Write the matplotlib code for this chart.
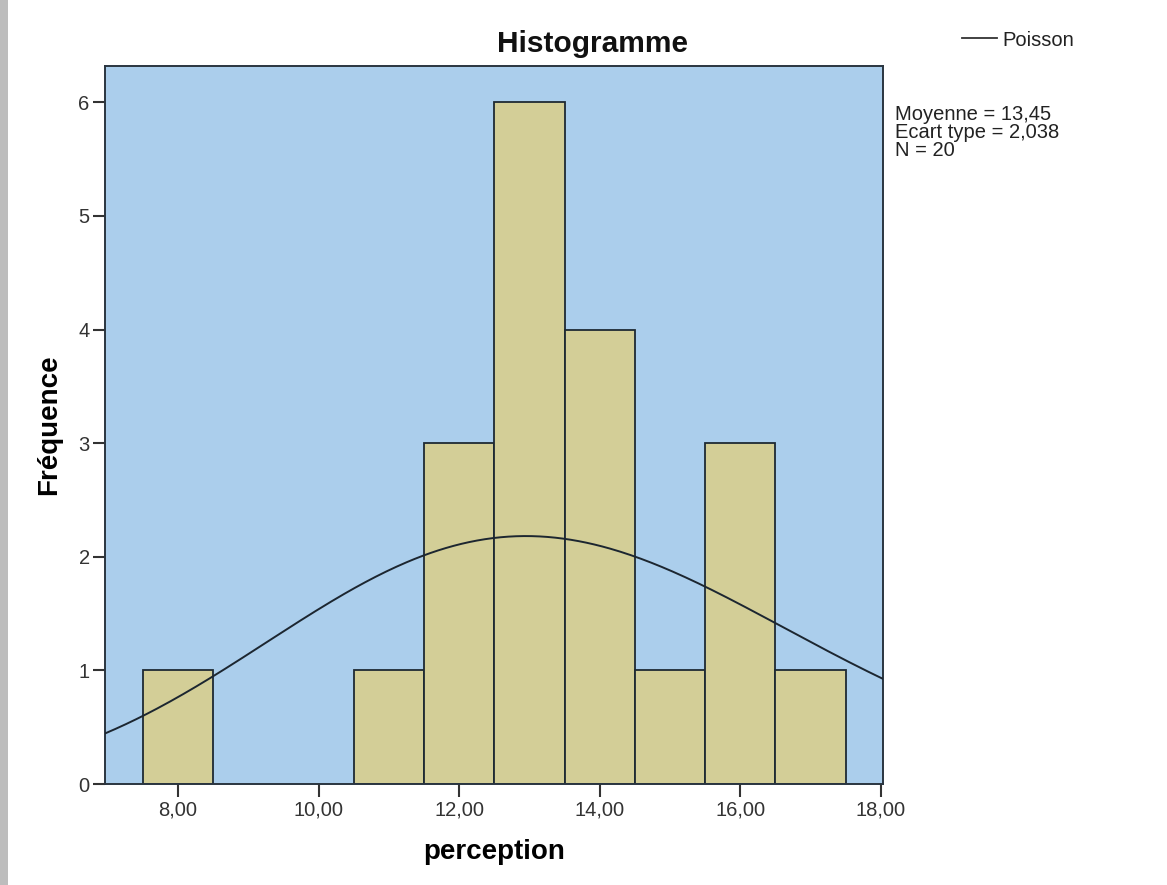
import math

import matplotlib
matplotlib.use("Agg")
import matplotlib.pyplot as plt
import numpy as np

# ---------------------------------------------------------------------------
# data
# ---------------------------------------------------------------------------
bin_centers = [8, 11, 12, 13, 14, 15, 16, 17]
counts = [1, 1, 3, 6, 4, 1, 3, 1]
x_ticks = [8, 10, 12, 14, 16, 18]
x_tick_labels = ["8,00", "10,00", "12,00", "14,00", "16,00", "18,00"]
y_ticks = [0, 1, 2, 3, 4, 5, 6]

mean_val = 13.45     # "Moyenne" printed on the chart
n_obs = 20           # "N" printed on the chart
stats_text = "Moyenne = 13,45\nEcart type = 2,038\nN = 20"

# colours
BG_BLUE = "#ABCEEC"
BAR_FILL = "#D3CE97"
EDGE = "#1E2A33"

plt.rcParams["font.family"] = ["Liberation Sans", "DejaVu Sans"]

fig = plt.figure(figsize=(11.67, 8.85), dpi=100)
fig.patch.set_facecolor("white")

# thin grey frame on the left edge (screenshot border)
fig.patches.append(plt.Rectangle((0, 0), 8 / 1167, 1, transform=fig.transFigure,
                                 facecolor="#BDBDBD", edgecolor="none", zorder=0))

ax = fig.add_axes([105 / 1167, 1 - 784 / 885, (883 - 105) / 1167, (784 - 66) / 885])
ax.set_facecolor(BG_BLUE)

ax.bar(bin_centers, counts, width=1.0, color=BAR_FILL, edgecolor=EDGE,
       linewidth=1.3, zorder=2)

# fitted Poisson curve (continuous form, scaled to counts per unit bin)
xs = np.linspace(6.96, 18.03, 300)
ys = [n_obs * math.exp(-mean_val + x * math.log(mean_val) - math.lgamma(x + 1)) for x in xs]
ax.plot(xs, ys, color="#1C2630", lw=1.4, zorder=3)

ax.set_xlim(6.96, 18.03)
ax.set_ylim(0, 6.32)
ax.set_xticks(x_ticks)
ax.set_xticklabels(x_tick_labels)
ax.set_yticks(y_ticks)
ax.tick_params(axis="both", direction="out", length=9, width=1.5,
               color="#333333", labelsize=14.5, labelcolor="#333333")
ax.tick_params(axis="x", pad=3)
ax.tick_params(axis="y", pad=2)
for sp in ax.spines.values():
    sp.set_color("#2A3540")
    sp.set_linewidth(1.4)

ax.set_xlabel("perception", fontsize=20, fontweight="bold", labelpad=14)
ax.set_ylabel("Fréquence", fontsize=20, fontweight="bold", labelpad=12)

fig.text(592 / 1167, 1 - 44 / 885, "Histogramme", ha="center", va="center",
         fontsize=21.5, fontweight="bold", color="#111111")

# legend entry
fig.add_artist(plt.Line2D([962 / 1167, 997 / 1167], [1 - 38 / 885, 1 - 38 / 885],
                          color="#333333", lw=1.3))
fig.text(1002 / 1167, 1 - 40 / 885, "Poisson", ha="left", va="center",
         fontsize=14.5, color="#222222")

fig.text(895 / 1167, 1 - 105 / 885, stats_text, ha="left", va="top",
         fontsize=14.5, color="#222222", linespacing=0.92)

fig.savefig("out.png", dpi=100)
